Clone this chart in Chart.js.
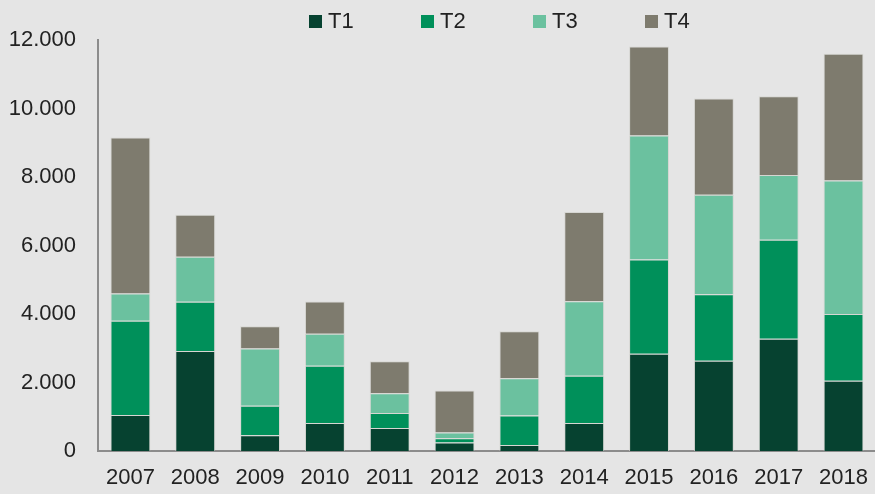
<!DOCTYPE html>
<html>
<head>
<meta charset="UTF-8" />
<title>T1-T4 2007-2018</title>
<script src="https://cdn.jsdelivr.net/npm/chart.js"></script>
<style>
  html, body { margin: 0; padding: 0; background: #e5e5e5; overflow: hidden; }
  body { width: 875px; height: 494px; position: relative; font-family: 'Liberation Sans', sans-serif; }
  .wrap { position: absolute; left: 0; top: 0; width: 882px; height: 494px; }
  .legend { position: absolute; left: 309px; top: 8px; display: flex; }
  .legend .item { width: 112px; display: flex; align-items: center; font-size: 22px; color: #222; }
  .legend .box { width: 13px; height: 13px; margin-right: 6px; }
</style>
</head>
<body>
<div class="wrap"><canvas id="chart" width="882" height="494"></canvas></div>
<div class="legend" id="legend"></div>

<script>
const years = ['2007','2008','2009','2010','2011','2012','2013','2014','2015','2016','2017','2018'];
const seriesNames = ['T1', 'T2', 'T3', 'T4'];
const t1 = [1050, 2920, 460, 820, 670, 245, 175, 820, 2840, 2635, 3280, 2050];
const t2 = [2750, 1440, 860, 1670, 440, 125, 860, 1375, 2750, 1940, 2890, 1950];
const t3 = [800, 1310, 1670, 935, 575, 170, 1090, 2180, 3620, 2905, 1890, 3900];
const t4 = [4550, 1230, 655, 940, 935, 1230, 1375, 2600, 2600, 2810, 2300, 3700];
const colors = ['#064230', '#00905a', '#6bc19f', '#7e7b6e'];

const values = [t1, t2, t3, t4];

document.getElementById('legend').innerHTML = seriesNames.map((n, i) =>
  `<div class="item"><span class="box" style="background:${colors[i]}"></span>${n}</div>`
).join('');

const font = { family: 'Liberation Sans', size: 22 };

new Chart(document.getElementById('chart'), {
  type: 'bar',
  data: {
    labels: years,
    datasets: seriesNames.map((n, i) => ({
      label: n,
      data: values[i],
      backgroundColor: colors[i],
      borderColor: 'rgba(210,210,205,0.8)',
      borderWidth: 1,
      barPercentage: 0.615,
      categoryPercentage: 1
    }))
  },
  options: {
    responsive: false,
    animation: false,
    layout: { padding: { top: 40, left: 0, right: 0, bottom: 0 } },
    plugins: { legend: { display: false }, tooltip: { enabled: false } },
    scales: {
      x: {
        stacked: true,
        grid: { display: false, drawTicks: false },
        border: { display: true, color: '#8c8c8c', width: 2 },
        ticks: { color: '#222', font: font, padding: 14, maxRotation: 0 },
        afterFit: s => { s.height = 43; }
      },
      y: {
        stacked: true,
        min: 0,
        max: 12000,
        grid: { display: false, drawTicks: false },
        border: { display: true, color: '#8c8c8c', width: 2 },
        ticks: {
          stepSize: 2000,
          color: '#222',
          font: font,
          padding: 22,
          callback: v => v.toLocaleString('de-DE')
        },
        afterFit: s => { s.width = 98; }
      }
    }
  }
});
</script>
</body>
</html>
